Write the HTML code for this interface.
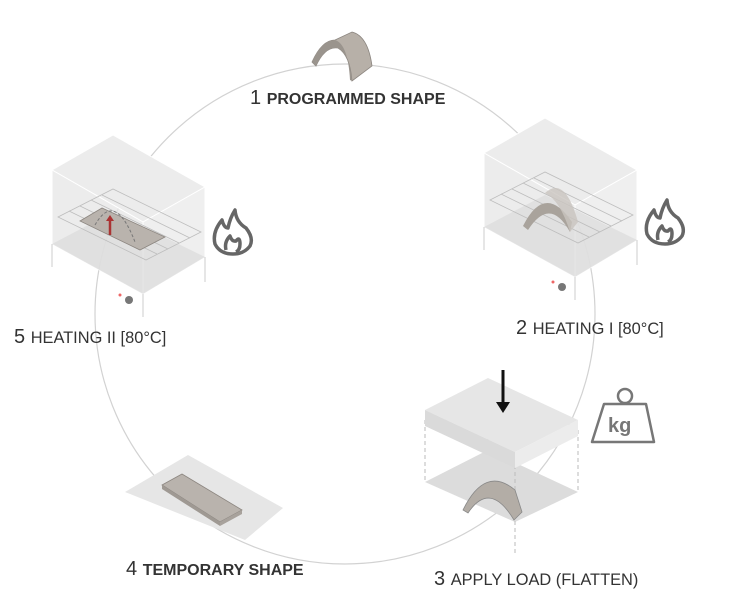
<!DOCTYPE html>
<html><head><meta charset="utf-8"><style>
html,body{margin:0;padding:0;background:#fff;}
svg{display:block}
text{font-family:"Liberation Sans",Arial,sans-serif;fill:#333}
</style></head><body>
<svg width="736" height="604" viewBox="0 0 736 604" xmlns="http://www.w3.org/2000/svg">
<defs>
<g id="oven">
  <polygon points="484,153 545,118 637,170 575,205" fill="#ececec" stroke="#fff" stroke-width="1"/>
  <polygon points="484,153 484,227 575,277 575,205" fill="#e6e6e6" fill-opacity="0.75" stroke="#fff"/>
  <polygon points="575,205 637,170 637,240 575,277" fill="#e9e9e9" fill-opacity="0.75" stroke="#fff"/>
  <polygon points="484,227 545,195 637,240 575,277" fill="#dcdcdc" fill-opacity="0.7"/>
  <g stroke="#bdbdbd" stroke-width="0.8" fill="none">
    <polygon points="490,200 545,172 633,215 578,243"/>
    <line x1="501" y1="194" x2="589" y2="237"/>
    <line x1="512" y1="189" x2="600" y2="232"/>
    <line x1="523" y1="183" x2="611" y2="226"/>
    <line x1="534" y1="178" x2="622" y2="221"/>
  </g>
  <line x1="484" y1="227" x2="484" y2="250" stroke="#ccc"/>
  <line x1="637" y1="240" x2="637" y2="265" stroke="#ccc"/>
  <line x1="575" y1="277" x2="575" y2="300" stroke="#ccc"/>
</g>
</defs>

<circle cx="345" cy="314" r="250" fill="none" stroke="#d2d2d2" stroke-width="1.2"/>

<path d="M312,62 Q322,40 335,40 L352,32 Q368,36 372,66 L352,81 Q350,55 338,48 Q325,46 316,66 Z" fill="#b7b0a8" stroke="#8c8680" stroke-width="0.8"/>
<path d="M312,62 Q322,40 335,40 Q348,44 350,80 L352,81 Q350,55 338,48 Q325,46 316,66 Z" fill="#9a948d"/>
<text x="250" y="104" font-size="20">1 <tspan font-size="16" font-weight="bold">PROGRAMMED SHAPE</tspan></text>

<use href="#oven"/>
<path d="M523,226 Q545,182 572,222 L570,232 Q550,196 528,230 Z" fill="#a9a39c"/>
<path d="M545,193 Q565,175 578,222 L570,232 Q560,200 545,193Z" fill="#c9c4bf" opacity="0.8"/>
<circle cx="562" cy="287" r="4" fill="#777"/><circle cx="553" cy="282" r="1.5" fill="#e66"/>
<text x="516" y="334" font-size="20">2 <tspan font-size="16.4">HEATING I [80°C]</tspan></text>

<g transform="translate(-432,17)"><use href="#oven"/></g>
<polygon points="80,221 102,208 165,237 140,250" fill="#b9b3ad" stroke="#8c8680" stroke-width="0.8"/>
<path d="M95,225 Q115,190 135,242" fill="none" stroke="#777" stroke-dasharray="3,2"/>
<line x1="110" y1="235" x2="110" y2="219" stroke="#a33" stroke-width="2.5"/>
<polygon points="106,221 114,221 110,215" fill="#a33"/>
<circle cx="129" cy="300" r="4" fill="#777"/><circle cx="120" cy="295" r="1.5" fill="#e66"/>
<text x="14" y="343" font-size="20">5 <tspan font-size="16.4">HEATING II [80°C]</tspan></text>

<g fill="none" stroke="#666" stroke-width="3.5" stroke-linejoin="round">
  <path d="M235,210 Q236,222 246,228 Q254,238 250,246 Q244,254 233,254 Q220,254 215,244 Q212,232 222,220 Q224,228 228,228 Q230,218 235,210Z"/>
  <path d="M226,250 Q224,242 230,236 Q232,242 236,241 Q240,236 240,244 Q240,250 236,252"/>
  <g transform="translate(432,-10)">
  <path d="M235,210 Q236,222 246,228 Q254,238 250,246 Q244,254 233,254 Q220,254 215,244 Q212,232 222,220 Q224,228 228,228 Q230,218 235,210Z"/>
  <path d="M226,250 Q224,242 230,236 Q232,242 236,241 Q240,236 240,244 Q240,250 236,252"/>
  </g>
</g>

<polygon points="425,482 488,450 578,492 515,522" fill="#dcdcdc"/>
<g stroke="#bbb" stroke-dasharray="4,3" fill="none">
  <line x1="425" y1="420" x2="425" y2="482"/>
  <line x1="578" y1="430" x2="578" y2="492"/>
  <line x1="515" y1="465" x2="515" y2="555"/>
  <line x1="488" y1="450" x2="488" y2="430"/>
</g>
<path d="M463,510 Q485,465 515,490 L522,512 L514,520 Q490,480 468,513 Z" fill="#b3ada6" stroke="#888" stroke-width="0.8"/>
<polygon points="425,410 488,378 578,420 515,452" fill="#e6e6e6"/>
<polygon points="425,410 515,452 515,468 425,426" fill="#dadada"/>
<polygon points="515,452 578,420 578,436 515,468" fill="#ececec"/>
<line x1="503" y1="370" x2="503" y2="405" stroke="#111" stroke-width="3"/>
<polygon points="496,402 510,402 503,413" fill="#111"/>
<circle cx="625" cy="396" r="7" fill="none" stroke="#777" stroke-width="2.5"/>
<polygon points="604,404 646,404 654,442 592,442" fill="none" stroke="#777" stroke-width="2.5" stroke-linejoin="round"/>
<text x="608" y="432" font-size="20" font-weight="bold" style="fill:#777">kg</text>
<text x="434" y="585" font-size="20">3 <tspan font-size="16.4">APPLY LOAD (FLATTEN)</tspan></text>

<polygon points="125,492 188,455 283,508 245,540" fill="#e6e6e6"/>
<polygon points="162,485 182,474 242,510 220,522" fill="#b9b3ad" stroke="#8c8680" stroke-width="0.8"/>
<polygon points="162,485 220,522 220,526 162,489" fill="#9f9993"/>
<polygon points="220,522 242,510 242,514 220,526" fill="#a8a29c"/>
<text x="126" y="575" font-size="20">4 <tspan font-size="16" font-weight="bold">TEMPORARY SHAPE</tspan></text>
</svg>
</body></html>
